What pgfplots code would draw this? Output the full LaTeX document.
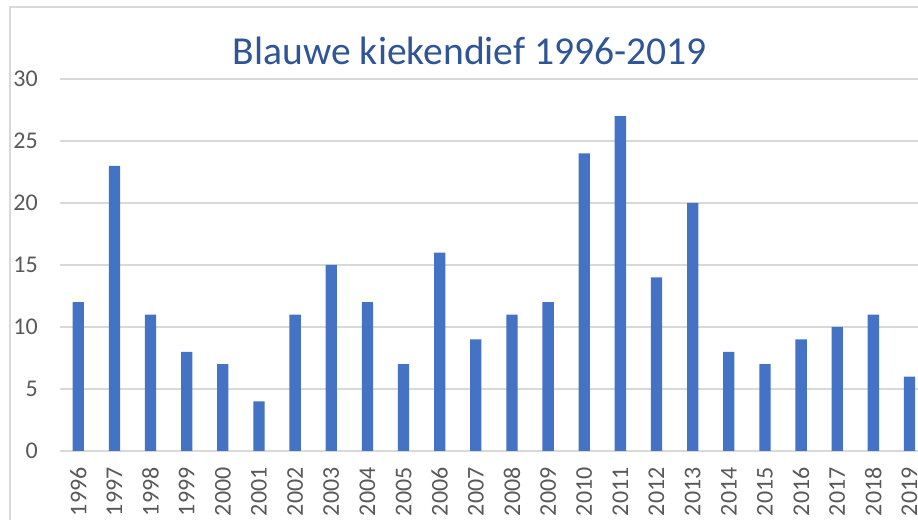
\documentclass[border=0pt]{standalone}
\usepackage{fontspec}
\setmainfont{Carlito}
\usepackage{pgfplots}
\pgfplotsset{compat=1.18}
\definecolor{barblue}{HTML}{4472C4}
\definecolor{titleblue}{HTML}{2F5597}
\definecolor{gridgray}{HTML}{D9D9D9}
\definecolor{labelgray}{HTML}{595959}
\begin{document}
% 1 px of the reference = 0.5pt, picture is 918 x 520 px
\begin{tikzpicture}
\path[use as bounding box,clip] (0,0) rectangle (459pt,260pt);
% chart frame (cut off right and below)
\draw[gridgray,line width=0.7pt] (5pt,-10pt) -- (5pt,256.4pt) -- (470pt,256.4pt);
\begin{axis}[
at={(30.1pt,34.5pt)},anchor=south west,
scale only axis,width=433.7pt,height=186pt,
xmin=-0.5,xmax=23.5,ymin=0,ymax=30,
ybar,bar width=5.65pt,
ytick={0,5,10,15,20,25,30},
xtick={0,...,23},
xticklabels={1996,1997,1998,1999,2000,2001,2002,2003,2004,2005,2006,2007,2008,2009,2010,2011,2012,2013,2014,2015,2016,2017,2018,2019},
ymajorgrids,grid style={gridgray,line width=0.6pt},
axis line style={draw=none},
major tick length=0pt,
/pgf/number format/assume math mode=true,
tick label style={font=\fontsize{12}{14}\selectfont,text=labelgray},
yticklabel style={anchor=east,inner sep=0pt},
yticklabel shift=11pt,
xticklabel style={rotate=90,anchor=east,inner sep=0pt},
xticklabel shift=8pt,
clip=false,
]
\addplot[fill=barblue,draw=none] coordinates {
(0,12)(1,23)(2,11)(3,8)(4,7)(5,4)(6,11)(7,15)(8,12)(9,7)(10,16)(11,9)
(12,11)(13,12)(14,24)(15,27)(16,14)(17,20)(18,8)(19,7)(20,9)(21,10)(22,11)(23,6)};
\end{axis}
\node[text=titleblue,font=\fontsize{19.8}{23}\selectfont] at (235pt,234.5pt) {Blauwe kiekendief 1996-2019};
\end{tikzpicture}
\end{document}
